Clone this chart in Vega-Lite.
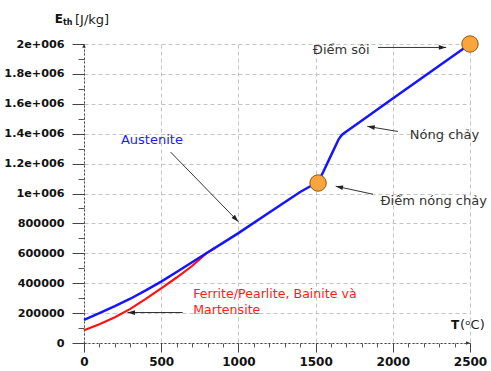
{
  "$schema": "https://vega.github.io/schema/vega-lite/v6.json",
  "width": 386,
  "height": 299,
  "autosize": {"type": "none"},
  "padding": {"left": 84, "top": 44, "right": 21, "bottom": 28},
  "background": "white",
  "config": {"view": {"stroke": null}, "font": "DejaVu Sans"},
  "datasets": {
    "curves": [
      {"series": "ferrite", "T": 0, "E": 85000},
      {"series": "ferrite", "T": 100, "E": 126000},
      {"series": "ferrite", "T": 200, "E": 172000},
      {"series": "ferrite", "T": 300, "E": 228000},
      {"series": "ferrite", "T": 400, "E": 295000},
      {"series": "ferrite", "T": 500, "E": 366000},
      {"series": "ferrite", "T": 600, "E": 438000},
      {"series": "ferrite", "T": 700, "E": 515000},
      {"series": "ferrite", "T": 790, "E": 598000},
      {"series": "ferrite", "T": 850, "E": 637000},
      {"series": "austenite", "T": 0, "E": 155000},
      {"series": "austenite", "T": 100, "E": 200000},
      {"series": "austenite", "T": 200, "E": 246000},
      {"series": "austenite", "T": 300, "E": 296000},
      {"series": "austenite", "T": 400, "E": 352000},
      {"series": "austenite", "T": 500, "E": 411000},
      {"series": "austenite", "T": 600, "E": 475000},
      {"series": "austenite", "T": 700, "E": 540000},
      {"series": "austenite", "T": 800, "E": 605000},
      {"series": "austenite", "T": 900, "E": 670000},
      {"series": "austenite", "T": 1000, "E": 735000},
      {"series": "austenite", "T": 1200, "E": 873000},
      {"series": "austenite", "T": 1400, "E": 1010000},
      {"series": "austenite", "T": 1500, "E": 1068000},
      {"series": "austenite", "T": 1520, "E": 1085000},
      {"series": "austenite", "T": 1550, "E": 1145000},
      {"series": "austenite", "T": 1600, "E": 1255000},
      {"series": "austenite", "T": 1650, "E": 1364000},
      {"series": "austenite", "T": 1670, "E": 1392000},
      {"series": "austenite", "T": 1690, "E": 1408000},
      {"series": "austenite", "T": 1750, "E": 1452000},
      {"series": "austenite", "T": 2000, "E": 1635000},
      {"series": "austenite", "T": 2500, "E": 2000000}
    ],
    "points": [
      {"name": "Điểm nóng chảy", "T": 1516, "E": 1070000},
      {"name": "Điểm sôi", "T": 2500, "E": 2000000}
    ],
    "arrows": [
      {"name": "Austenite", "T1": 561, "E1": 1277000, "T2": 1000, "E2": 811000, "dir": 136},
      {"name": "Điểm sôi", "T1": 1904, "E1": 1977000, "T2": 2346, "E2": 1977000, "dir": 90},
      {"name": "Nóng chảy", "T1": 2033, "E1": 1415000, "T2": 1835, "E2": 1449000, "dir": 279},
      {"name": "Điểm nóng chảy", "T1": 1872, "E1": 995000, "T2": 1630, "E2": 1049000, "dir": 282},
      {"name": "Ferrite", "T1": 639, "E1": 204000, "T2": 282, "E2": 204000, "dir": 270}
    ],
    "axisArrows": [
      {"T": 2500, "E": 0, "dir": 90},
      {"T": 0, "E": 2000000, "dir": 0}
    ],
    "labels": [
      {"text": "Austenite", "T": 440, "E": 1355000, "kind": "blue"},
      {"text": "Điểm sôi", "T": 1666, "E": 1962000, "kind": "gray"},
      {"text": "Nóng chảy", "T": 2335, "E": 1393000, "kind": "gray"},
      {"text": "Điểm nóng chảy", "T": 2265, "E": 951000, "kind": "gray"}
    ],
    "redLabels": [
      {"text": "Ferrite/Pearlite, Bainite và", "T": 707, "E": 329000},
      {"text": "Martensite", "T": 707, "E": 222000}
    ]
  },
  "layer": [
    {
      "data": {"name": "curves"},
      "transform": [{"filter": "datum.series === 'ferrite'"}],
      "mark": {"type": "line", "color": "#ff1010", "strokeWidth": 2.2},
      "encoding": {
        "x": {"field": "T", "type": "quantitative", "scale": {"domain": [0, 2500], "nice": false, "zero": false},
          "axis": {"orient": "bottom", "tickCount": 25, "labels": false, "grid": false, "domain": false, "tickSize": 4, "tickColor": "#555", "title": null}},
        "y": {"field": "E", "type": "quantitative", "scale": {"domain": [0, 2000000], "nice": false},
          "axis": {"orient": "left", "tickCount": 20, "labels": false, "grid": false, "domain": false, "tickSize": 6, "tickColor": "#555", "title": null}},
        "order": {"field": "T", "type": "quantitative"}
      }
    },
    {
      "data": {"name": "curves"},
      "transform": [{"filter": "datum.series === 'austenite'"}],
      "mark": {"type": "line", "color": "#1414ff", "strokeWidth": 2.5},
      "encoding": {
        "x": {"field": "T", "type": "quantitative", "scale": {"domain": [0, 2500], "nice": false, "zero": false},
          "axis": {"orient": "bottom", "tickCount": 5, "format": "d", "labelFlush": false, "labelOverlap": false, "grid": true, "gridColor": "#c4c4c4", "gridDash": [4, 3], "domainColor": "#444", "domainDash": [2, 2], "tickColor": "#444", "tickSize": 9, "labelFont": "DejaVu Sans", "labelFontWeight": "bold", "labelFontSize": 12, "labelColor": "#111", "labelPadding": 4, "title": null}},
        "y": {"field": "E", "type": "quantitative", "scale": {"domain": [0, 2000000], "nice": false},
          "axis": {"orient": "left", "tickCount": 10, "labelFlush": false, "labelOverlap": false, "grid": true, "gridColor": "#c4c4c4", "gridDash": [4, 3], "domainColor": "#444", "domainDash": [2, 2], "tickColor": "#444", "tickSize": 12, "labelFont": "DejaVu Sans", "labelFontWeight": "bold", "labelFontSize": 11.2, "labelColor": "#111", "labelPadding": 8, "title": null,
            "labelExpr": "datum.value >= 1000000 ? (datum.value / 1000000) + 'e+006' : format(datum.value, 'd')"}},
        "order": {"field": "T", "type": "quantitative"}
      }
    },
    {
      "data": {"name": "arrows"},
      "mark": {"type": "rule", "color": "#333", "strokeWidth": 1},
      "encoding": {
        "x": {"field": "T1", "type": "quantitative", "scale": {"domain": [0, 2500], "nice": false, "zero": false}, "axis": null},
        "y": {"field": "E1", "type": "quantitative", "scale": {"domain": [0, 2000000], "nice": false}, "axis": null},
        "x2": {"field": "T2"},
        "y2": {"field": "E2"}
      }
    },
    {
      "data": {"name": "arrows"},
      "mark": {"type": "point", "shape": "M0,0 L-0.32,1 L0.32,1 Z", "filled": true, "color": "#222", "opacity": 1, "size": 220},
      "encoding": {
        "x": {"field": "T2", "type": "quantitative", "scale": {"domain": [0, 2500], "nice": false, "zero": false}, "axis": null},
        "y": {"field": "E2", "type": "quantitative", "scale": {"domain": [0, 2000000], "nice": false}, "axis": null},
        "angle": {"field": "dir", "type": "quantitative", "scale": null}
      }
    },
    {
      "data": {"name": "axisArrows"},
      "mark": {"type": "point", "shape": "M0,0 L-0.45,1 L0.45,1 Z", "filled": true, "color": "#333", "opacity": 1, "size": 60},
      "encoding": {
        "x": {"field": "T", "type": "quantitative", "scale": {"domain": [0, 2500], "nice": false, "zero": false}, "axis": null},
        "y": {"field": "E", "type": "quantitative", "scale": {"domain": [0, 2000000], "nice": false}, "axis": null},
        "angle": {"field": "dir", "type": "quantitative", "scale": null}
      }
    },
    {
      "data": {"name": "points"},
      "mark": {"type": "point", "shape": "circle", "filled": true, "fill": "#f9a53c", "stroke": "#8a5a10", "strokeWidth": 1, "opacity": 1, "size": 270},
      "encoding": {
        "x": {"field": "T", "type": "quantitative", "scale": {"domain": [0, 2500], "nice": false, "zero": false}, "axis": null},
        "y": {"field": "E", "type": "quantitative", "scale": {"domain": [0, 2000000], "nice": false}, "axis": null}
      }
    },
    {
      "data": {"name": "labels"},
      "mark": {"type": "text", "font": "DejaVu Sans", "fontSize": 13, "align": "center", "baseline": "middle"},
      "encoding": {
        "x": {"field": "T", "type": "quantitative", "scale": {"domain": [0, 2500], "nice": false, "zero": false}, "axis": null},
        "y": {"field": "E", "type": "quantitative", "scale": {"domain": [0, 2000000], "nice": false}, "axis": null},
        "text": {"field": "text"},
        "color": {"field": "kind", "type": "nominal", "scale": {"domain": ["blue", "gray"], "range": ["#1a1aff", "#333333"]}, "legend": null}
      }
    },
    {
      "data": {"name": "redLabels"},
      "mark": {"type": "text", "font": "DejaVu Sans", "fontSize": 12.6, "align": "left", "baseline": "middle", "color": "#ff1a1a"},
      "encoding": {
        "x": {"field": "T", "type": "quantitative", "scale": {"domain": [0, 2500], "nice": false, "zero": false}, "axis": null},
        "y": {"field": "E", "type": "quantitative", "scale": {"domain": [0, 2000000], "nice": false}, "axis": null},
        "text": {"field": "text"}
      }
    },
    {
      "data": {"values": [
        {"text": "E", "T": -163, "E": 2140000},
        {"text": "T", "T": 2403, "E": 95000}
      ]},
      "mark": {"type": "text", "font": "DejaVu Sans", "fontWeight": "bold", "fontSize": 12, "align": "center", "baseline": "alphabetic", "color": "#111"},
      "encoding": {
        "x": {"field": "T", "type": "quantitative", "scale": {"domain": [0, 2500], "nice": false, "zero": false}, "axis": null},
        "y": {"field": "E", "type": "quantitative", "scale": {"domain": [0, 2000000], "nice": false}, "axis": null},
        "text": {"field": "text"}
      }
    },
    {
      "data": {"values": [
        {"text": "th", "T": -136, "E": 2127000}
      ]},
      "mark": {"type": "text", "font": "DejaVu Sans", "fontWeight": "bold", "fontSize": 8, "align": "left", "baseline": "alphabetic", "color": "#111"},
      "encoding": {
        "x": {"field": "T", "type": "quantitative", "scale": {"domain": [0, 2500], "nice": false, "zero": false}, "axis": null},
        "y": {"field": "E", "type": "quantitative", "scale": {"domain": [0, 2000000], "nice": false}, "axis": null},
        "text": {"field": "text"}
      }
    },
    {
      "data": {"values": [
        {"text": "[J/kg]", "T": -58, "E": 2135000},
        {"text": "(ᵒC)", "T": 2436, "E": 95000}
      ]},
      "mark": {"type": "text", "font": "DejaVu Sans", "fontSize": 13, "align": "left", "baseline": "alphabetic", "color": "#222"},
      "encoding": {
        "x": {"field": "T", "type": "quantitative", "scale": {"domain": [0, 2500], "nice": false, "zero": false}, "axis": null},
        "y": {"field": "E", "type": "quantitative", "scale": {"domain": [0, 2000000], "nice": false}, "axis": null},
        "text": {"field": "text"}
      }
    }
  ],
  "resolve": {"axis": {"x": "independent", "y": "independent"}}
}
